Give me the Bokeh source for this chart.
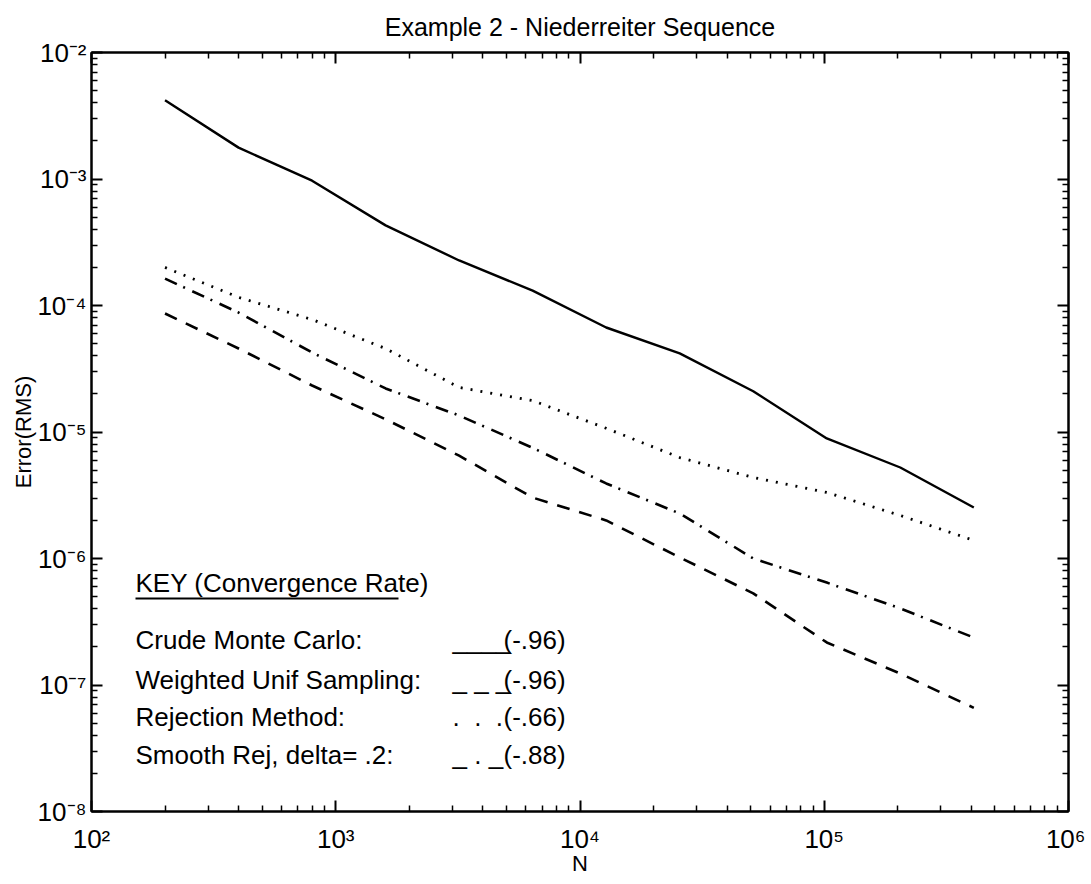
from bokeh.plotting import figure
from bokeh.models import (Range1d, LogAxis, FixedTicker, CustomJSTickFormatter,
                          Label, BoxAnnotation)
from bokeh.embed import file_html
from bokeh.resources import INLINE

# ---- data ----
N = [200, 400, 800, 1600, 3200, 6400, 12800, 25600, 51200, 102400, 204800, 409600]
crude_mc = [4.2e-3, 1.77e-3, 9.7e-4, 4.3e-4, 2.27e-4, 1.31e-4, 6.7e-5, 4.18e-5,
            2.1e-5, 8.9e-6, 5.24e-6, 2.53e-6]
weighted_unif = [8.65e-5, 4.57e-5, 2.33e-5, 1.26e-5, 6.5e-6, 3.03e-6, 2.0e-6,
                 1.02e-6, 5.3e-7, 2.17e-7, 1.23e-7, 6.6e-8]
rejection = [2.0e-4, 1.16e-4, 7.75e-5, 4.57e-5, 2.25e-5, 1.77e-5, 1.07e-5,
             6.28e-6, 4.37e-6, 3.33e-6, 2.19e-6, 1.39e-6]
smooth_rej = [1.63e-4, 8.8e-5, 4.25e-5, 2.21e-5, 1.35e-5, 7.5e-6, 3.92e-6,
              2.27e-6, 1.0e-6, 6.45e-7, 4.03e-7, 2.37e-7]

title_text = "Example 2 - Niederreiter Sequence"
key_title = "KEY (Convergence Rate)"
key_names = ["Crude Monte Carlo:", "Weighted Unif Sampling:", "Rejection Method:",
             "Smooth Rej, delta= .2:"]
key_samples = ["____", "_ _ _", ".\u00a0 .\u00a0 .", "_ . _"]
key_rates = ["(-.96)", "(-.96)", "(-.66)", "(-.88)"]

x_decades = [1e2, 1e3, 1e4, 1e5, 1e6]
y_decades = [1e-8, 1e-7, 1e-6, 1e-5, 1e-4, 1e-3, 1e-2]

FONT = "Liberation Sans"

def minors(decades):
    out = []
    for d in decades[:-1]:
        out += [d * k for k in range(2, 10)]
    return out

fmt_code = """
const sup = {"-":"\\u207b","0":"\\u2070","1":"\\u00b9","2":"\\u00b2","3":"\\u00b3",
             "4":"\\u2074","5":"\\u2075","6":"\\u2076","7":"\\u2077","8":"\\u2078","9":"\\u2079"};
const e = Math.round(Math.log10(tick));
return "10" + String(e).split("").map(c => sup[c]).join("");
"""
blank_code = "return ' ';"

p = figure(width=1085, height=883, x_axis_type="log", y_axis_type="log",
           x_range=Range1d(1e2, 1e6), y_range=Range1d(1e-8, 1e-2),
           output_backend="svg", toolbar_location=None,
           title=title_text,
           min_border_left=91, min_border_right=17, min_border_top=52,
           min_border_bottom=72)
p.background_fill_color = "white"
p.border_fill_color = "white"
p.outline_line_color = "black"
p.outline_line_width = 2
p.grid.visible = False

p.title.align = "center"
p.title.vertical_align = "top"
p.title.text_font = FONT
p.title.text_font_size = "25px"
p.title.text_font_style = "normal"
p.title.text_color = "black"
p.title.standoff = 20

def style_axis(ax, labels=True):
    ax.axis_line_color = "black"
    ax.axis_line_width = 2
    ax.major_tick_in = 11
    ax.major_tick_out = 0
    ax.minor_tick_in = 6
    ax.minor_tick_out = 0
    ax.major_tick_line_width = 2
    ax.minor_tick_line_width = 1.5
    ax.major_tick_line_color = "black"
    ax.minor_tick_line_color = "black"
    if labels:
        ax.major_label_text_font = FONT
        ax.major_label_text_font_size = "26px"
        ax.major_label_text_color = "black"
        ax.axis_label_text_font = FONT
        ax.axis_label_text_font_size = "22px"
        ax.axis_label_text_font_style = "normal"
        ax.axis_label_text_color = "black"
    else:
        ax.major_label_text_font_size = "1px"
        ax.major_label_text_alpha = 0
        ax.major_label_standoff = 0

xt = FixedTicker(ticks=x_decades, minor_ticks=minors(x_decades))
yt = FixedTicker(ticks=y_decades, minor_ticks=minors(y_decades))

p.xaxis.ticker = xt
p.yaxis.ticker = yt
p.xaxis.formatter = CustomJSTickFormatter(code=fmt_code)
p.yaxis.formatter = CustomJSTickFormatter(code=fmt_code)
p.xaxis.axis_label = "N"
p.yaxis.axis_label = "Error(RMS)"
for ax in p.xaxis + p.yaxis:
    style_axis(ax)
p.xaxis.major_label_standoff = 12
p.xaxis.axis_label_standoff = -6
p.yaxis.major_label_standoff = 5
p.yaxis.axis_label_standoff = -2

top = LogAxis(ticker=FixedTicker(ticks=x_decades, minor_ticks=minors(x_decades)),
              formatter=CustomJSTickFormatter(code=blank_code))
right = LogAxis(ticker=FixedTicker(ticks=y_decades, minor_ticks=minors(y_decades)),
                formatter=CustomJSTickFormatter(code=blank_code))
style_axis(top, labels=False)
style_axis(right, labels=False)
p.add_layout(top, "above")
p.add_layout(right, "right")

# ---- curves ----
p.line(N, crude_mc, line_color="black", line_width=2.4)
p.line(N, weighted_unif, line_color="black", line_width=2.6, line_dash="13 10")
p.line(N, rejection, line_color="black", line_width=2.8, line_dash="2 8")
p.line(N, smooth_rej, line_color="black", line_width=2.6, line_dash="13 7 2 8")

# ---- key (screen units, relative to frame bottom-left) ----
def lab(txt, x, y):
    p.add_layout(Label(x=x, y=y, x_units="screen", y_units="screen", text=txt,
                       text_font=FONT, text_font_size="26px", text_color="black",
                       text_baseline="middle", text_align="left"))

lab(key_title, 44, 229)
p.add_layout(BoxAnnotation(left=44, right=307, bottom=212, top=214,
                           left_units="screen", right_units="screen",
                           bottom_units="screen", top_units="screen",
                           fill_color="black", fill_alpha=1, line_color=None))
rows_y = [172, 132, 95, 57]
for name, samp, rate, yy in zip(key_names, key_samples, key_rates, rows_y):
    lab(name, 44, yy)
    lab(samp, 361, yy)
    lab(rate, 412, yy)

open("out.html", "w").write(file_html(p, INLINE))
